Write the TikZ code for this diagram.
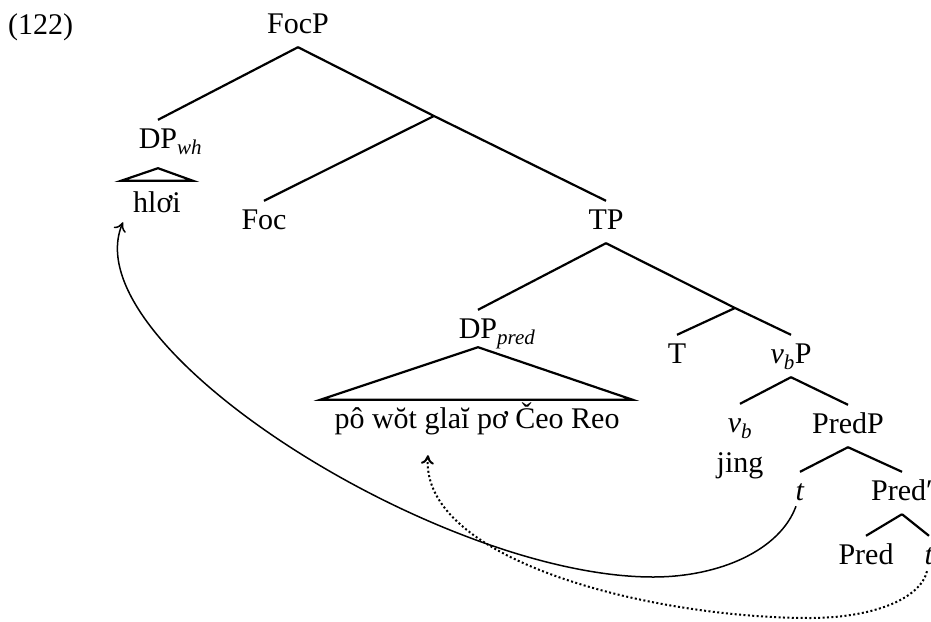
\documentclass[tikz,border=0pt]{standalone}
\usepackage{fontspec}
\setmainfont{Liberation Serif}
\usetikzlibrary{arrows.meta,calc}

\begin{document}
\begin{tikzpicture}[
  x=1pt, y=-1pt,
  lab/.style={anchor=base, inner xsep=0pt, inner ysep=8pt, text height=20pt, text depth=6pt, font=\fontsize{30}{36}\selectfont},
  branch/.style={line width=2.2pt},
  move/.style={line width=1.5pt, -{To[length=9pt,width=13pt]}},
  trace/.style={move, line width=2pt, dash pattern=on 2pt off 2.4pt}
]
\useasboundingbox (0,0) rectangle (931,621);

\node[lab, anchor=base west] (ex) at (8,34) {(122)};
\node[lab] (focp) at (298,33) {FocP};
\coordinate (focbar) at (434,116);
\node[lab] (dpwh) at (158,148) {DP\rlap{\textsubscript{\textit{wh}}}};
\node[lab] (hloi) at (157,212) {hlơi};
\node[lab] (foc) at (264,229) {Foc};
\node[lab] (tp) at (606,229) {TP};
\coordinate (tbar) at (735,308);
\node[lab] (dppred) at (478,338) {DP\rlap{\textsubscript{\textit{pred}}}};
\node[lab] (words) at (477,428) {pô wŏt glaĭ pơ Čeo Reo};
\node[lab] (tnode) at (677,363) {T};
\node[lab] (vbp) at (791,363) {\textit{v}\textsubscript{\textit{b}}P};
\node[lab] (vb) at (740,432) {\textit{v}\textsubscript{\textit{b}}};
\node[lab] (jing) at (740,472) {jing};
\node[lab] (predp) at (848,433) {PredP};
\node[lab] (tr1) at (800,500) {\textit{t}};
\node[lab] (predbar) at (902,500) {Pred′};
\node[lab] (pred) at (866,564) {Pred};
\node[lab] (tr2) at (929,564) {\textit{t}};

\draw[branch] (focp.south) -- (dpwh.north);
\draw[branch] (focp.south) -- (focbar) -- (tp.north);
\draw[branch] (focbar) -- (foc.north);
\draw[branch] ([yshift=-6pt]dpwh.south) -- ([shift={(-12pt,3pt)}]hloi.north west) -- ([shift={(12pt,3pt)}]hloi.north east) -- cycle;
\draw[branch] (tp.south) -- (dppred.north);
\draw[branch] (tp.south) -- (tbar) -- (vbp.north);
\draw[branch] (tbar) -- (tnode.north);
\draw[branch] ([yshift=5pt]dppred.south) -- ([xshift=-14pt]words.north west) -- ([xshift=13pt]words.north east) -- cycle;
\draw[branch] (vbp.south) -- (vb.north);
\draw[branch] (vbp.south) -- (predp.north);
\draw[branch] (predp.south) -- (tr1.north);
\draw[branch] (predp.south) -- (predbar.north);
\draw[branch] (predbar.south) -- (pred.north);
\draw[branch] (predbar.south) -- (tr2.north);

\draw[move] ([shift={(-4pt,8pt)}]tr1.south) .. controls (780,550) and (720,577) .. (653,577) .. controls (440,577) and (70,345) .. ([shift={(-10pt,4pt)}]hloi.south west);
\draw[trace] ([shift={(-2pt,7pt)}]tr2.south) .. controls (920,600) and (870,618) .. (810,618) .. controls (650,618) and (420,560) .. ([shift={(-49pt,-13pt)}]words.south);
\end{tikzpicture}
\end{document}
